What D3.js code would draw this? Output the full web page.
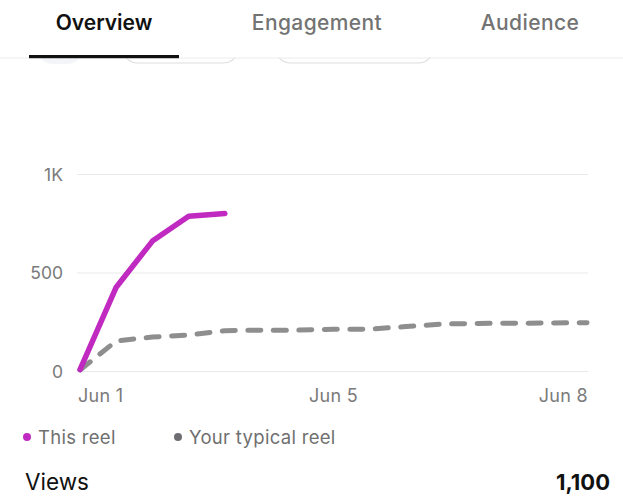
<!DOCTYPE html>
<html>
<head>
<meta charset="utf-8">
<script src="https://cdn.jsdelivr.net/npm/d3@7"></script>
<style>
  html, body { margin: 0; padding: 0; background: #fff; }
  svg { display: block; font-family: Inter, "Noto Sans", sans-serif; }
</style>
</head>
<body>
<svg id="chart" width="623" height="500"></svg>
<script>
// data (x = half-day steps since Jun 1)
const tabs = ['Overview', 'Engagement', 'Audience'];
const thisReel = [10, 428, 662, 788, 802];
const typicalReel = [8, 155, 175, 185, 207, 210, 210, 214, 215, 228, 241, 244, 245, 246, 248];
const xTickLabels = ['Jun 1', 'Jun 5', 'Jun 8'];
const xTickSteps = [0, 7, 14];
const yTicks = [0, 500, 1000];
const legendItems = ['This reel', 'Your typical reel'];
const totalLabel = 'Views';
const totalValue = 1100;

const pink = '#c12ac0';
const grey = '#8e8e8e';

const svg = d3.select('#chart');

// faint filter chips peeking out under the tab bar
svg.append('rect').attr('x', 36).attr('y', 30).attr('width', 48).attr('height', 34)
  .attr('rx', 17).attr('fill', '#f3f5f8');
svg.append('rect').attr('x', 122).attr('y', 30).attr('width', 117).attr('height', 33)
  .attr('rx', 16).attr('fill', '#fff').attr('stroke', '#dedede').attr('stroke-width', 1.2);
svg.append('rect').attr('x', 275).attr('y', 30).attr('width', 159).attr('height', 33)
  .attr('rx', 16).attr('fill', '#fff').attr('stroke', '#dedede').attr('stroke-width', 1.2);
svg.append('rect').attr('x', 0).attr('y', 0).attr('width', 623).attr('height', 57.5).attr('fill', '#fff');

// tab bar
const tabX = [104, 317, 530];
svg.selectAll('text.tab')
  .data(tabs)
  .join('text')
  .attr('class', 'tab')
  .attr('x', (d, i) => tabX[i])
  .attr('y', 30)
  .attr('text-anchor', 'middle')
  .attr('font-size', 21)
  .attr('letter-spacing', (d, i) => i === 0 ? 0 : 0.4)
  .attr('font-weight', (d, i) => i === 0 ? 600 : 500)
  .attr('fill', (d, i) => i === 0 ? '#111' : '#737373')
  .text(d => d);

svg.append('line').attr('x1', 0).attr('x2', 623).attr('y1', 58).attr('y2', 58)
  .attr('stroke', '#ececec').attr('stroke-width', 1);
svg.append('rect').attr('x', 29).attr('y', 55).attr('width', 150).attr('height', 3.2).attr('fill', '#111');

// chart
const x = d3.scaleLinear().domain([0, 14]).range([80, 587]);
const y = d3.scaleLinear().domain([0, 1000]).range([371.5, 174.5]);

const grid = svg.append('g');
grid.selectAll('line')
  .data(yTicks)
  .join('line')
  .attr('x1', 77).attr('x2', 588)
  .attr('y1', d => y(d)).attr('y2', d => y(d))
  .attr('stroke', '#e9e9e9').attr('stroke-width', 1.2);

grid.selectAll('text')
  .data(yTicks)
  .join('text')
  .attr('x', 63)
  .attr('y', d => y(d))
  .attr('dy', '0.36em')
  .attr('text-anchor', 'end')
  .attr('font-size', 17.5)
  .attr('fill', '#7a7a7a')
  .text(d => d === 1000 ? '1K' : d);

svg.append('g').selectAll('text')
  .data(xTickSteps)
  .join('text')
  .attr('x', d => x(d))
  .attr('y', 402)
  .attr('text-anchor', (d, i) => i === 0 ? 'start' : i === xTickSteps.length - 1 ? 'end' : 'middle')
  .attr('dx', (d, i) => i === 0 ? -2 : i === xTickSteps.length - 1 ? 1 : 0)
  .attr('font-size', 18)
  .attr('letter-spacing', 0.3)
  .attr('fill', '#7a7a7a')
  .text((d, i) => xTickLabels[i]);

const line = d3.line().x((d, i) => x(i)).y(d => y(d));

svg.append('path')
  .datum(typicalReel)
  .attr('d', line)
  .attr('fill', 'none')
  .attr('stroke', grey)
  .attr('stroke-width', 5)
  .attr('stroke-linecap', 'round')
  .attr('stroke-linejoin', 'round')
  .attr('stroke-dasharray', '13 12.5');

svg.append('path')
  .datum(thisReel)
  .attr('d', line)
  .attr('fill', 'none')
  .attr('stroke', pink)
  .attr('stroke-width', 5.5)
  .attr('stroke-linecap', 'round')
  .attr('stroke-linejoin', 'round');

// legend
const legendX = [27, 178];
const legendColors = [pink, '#6d6d72'];
const legend = svg.append('g').selectAll('g')
  .data(legendItems)
  .join('g')
  .attr('transform', (d, i) => `translate(${legendX[i]},438)`);
legend.append('circle').attr('r', 4).attr('cy', -1).attr('fill', (d, i) => legendColors[i]);
legend.append('text')
  .attr('x', 11)
  .attr('dy', '0.35em')
  .attr('font-size', 18.5)
  .attr('letter-spacing', 0.3)
  .attr('fill', '#6f6f6f')
  .text(d => d);

// footer
svg.append('text').attr('x', 25).attr('y', 490)
  .attr('font-size', 22.5).attr('fill', '#111').text(totalLabel);
svg.append('text').attr('x', 610).attr('y', 490).attr('text-anchor', 'end')
  .attr('font-size', 22).attr('font-weight', 700).attr('fill', '#111')
  .text(d3.format(',')(totalValue));
</script>
</body>
</html>
